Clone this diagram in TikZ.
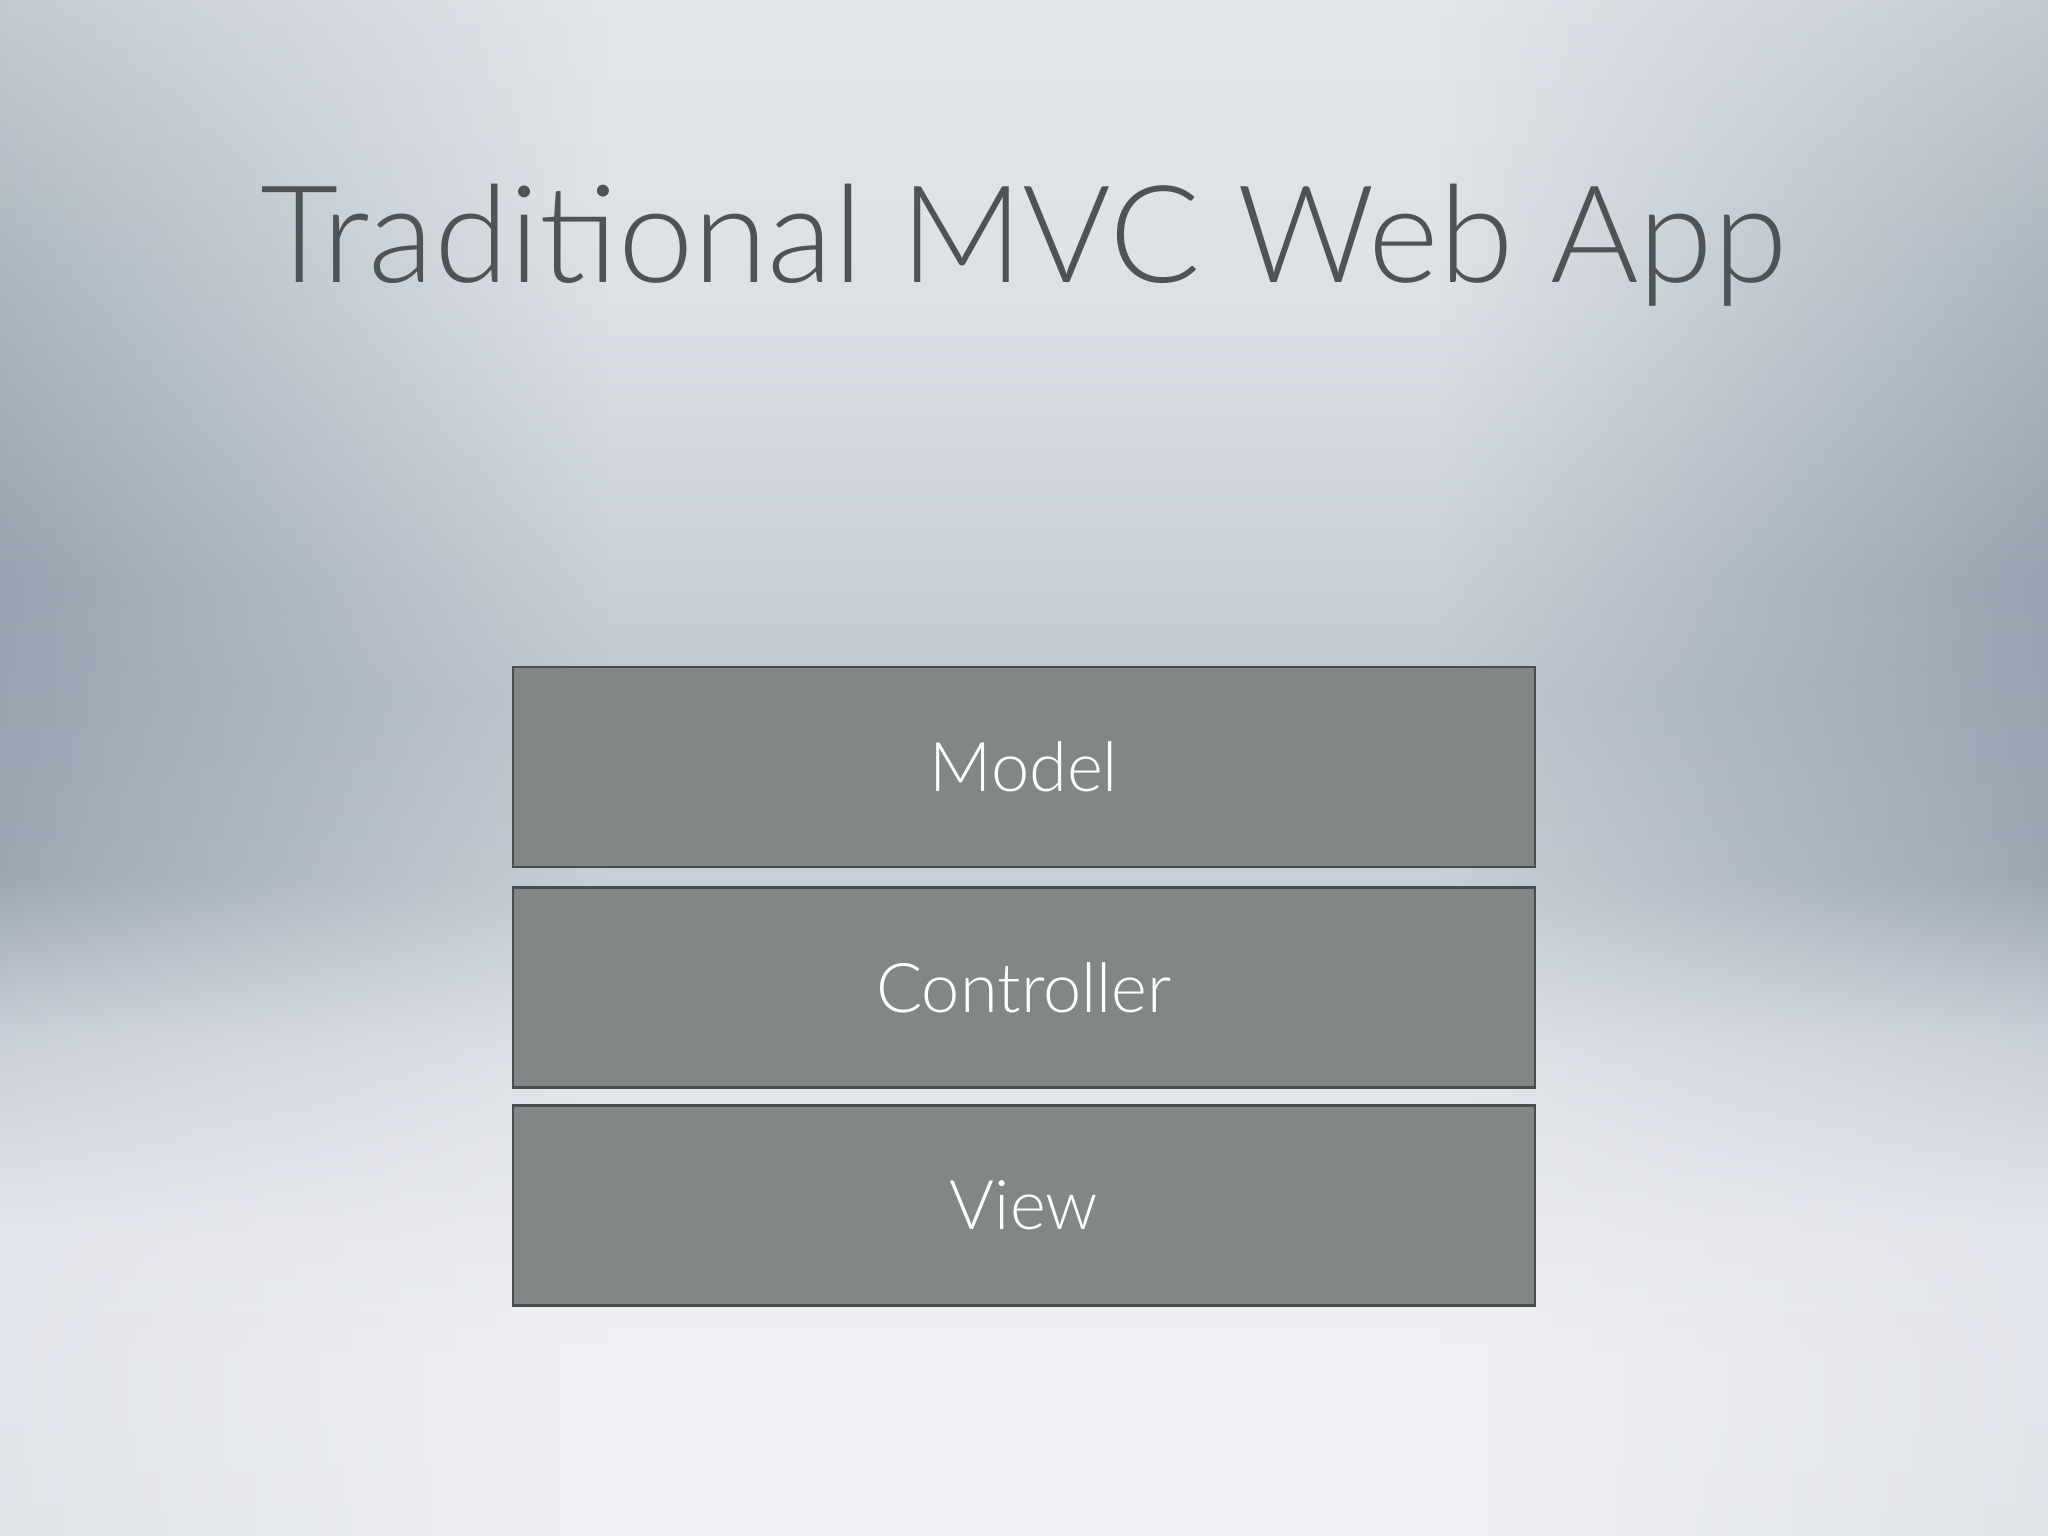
\documentclass[tikz,border=0pt]{standalone}
\usepackage{fontspec}
\setmainfont{Lato}[UprightFont=* Light]
\usepackage{tikz}
\usetikzlibrary{fadings}
\definecolor{titlegray}{RGB}{78,83,86}
\definecolor{boxgray}{RGB}{128,135,134}
\definecolor{boxline}{RGB}{72,77,80}
% backdrop, middle of the slide
\definecolor{midA}{RGB}{226,230,235}
\definecolor{midB}{RGB}{221,225,230}
\definecolor{midC}{RGB}{192,200,208}
\definecolor{midD}{RGB}{201,208,215}
\definecolor{midE}{RGB}{224,227,232}
\definecolor{midF}{RGB}{240,241,244}
% backdrop, sides of the slide
\definecolor{sideA}{RGB}{196,203,210}
\definecolor{sideB}{RGB}{170,182,191}
\definecolor{sideC}{RGB}{149,163,176}
\definecolor{sideD}{RGB}{154,167,179}
\definecolor{sideE}{RGB}{200,206,215}
\definecolor{sideF}{RGB}{227,229,236}
\definecolor{sideG}{RGB}{223,227,232}
\pgfdeclareverticalshading{midprofile}{100bp}{color(0bp)=(midF); color(25bp)=(midF); color(31bp)=(midF); color(40.8bp)=(midE); color(45.7bp)=(midD); color(52.2bp)=(midC); color(65.2bp)=(midB); color(75bp)=(midA); color(100bp)=(midA)}
\pgfdeclareverticalshading{sideprofile}{100bp}{color(0bp)=(sideG); color(25bp)=(sideG); color(35bp)=(sideF); color(41.5bp)=(sideE); color(46.5bp)=(sideD); color(56bp)=(sideC); color(66bp)=(sideB); color(75bp)=(sideA); color(100bp)=(sideA)}
\pgfdeclarehorizontalshading{sidemask}{100bp}{color(0bp)=(pgftransparent!0); color(25bp)=(pgftransparent!0); color(31bp)=(pgftransparent!40); color(40bp)=(pgftransparent!100); color(60bp)=(pgftransparent!100); color(69bp)=(pgftransparent!40); color(75bp)=(pgftransparent!0); color(100bp)=(pgftransparent!0)}
\pgfdeclarefading{sidefade}{\pgfuseshading{sidemask}}
\tikzset{
  layer/.style={draw=boxline,line width=0.8pt,fill=boxgray,minimum width=10.22cm,minimum height=2cm,inner sep=0pt,text=white,font=\fontsize{19.5}{23}\selectfont},
  heading/.style={text=titlegray,anchor=base,inner sep=0pt,font=\fontsize{38.5}{46}\selectfont}
}
\begin{document}
\begin{tikzpicture}
	% backdrop
	\useasboundingbox (0,0) rectangle (20.48,15.36);
	\shade[shading=midprofile] (-0.1,-0.1) rectangle (20.58,15.46);
	\shade[shading=sideprofile,path fading=sidefade] (-0.1,-0.1) rectangle (20.58,15.46);
	\node[heading] (title) at (10.24,12.53) {Traditional MVC Web App};
	\node[layer] (model) at (10.24,7.69) {Model};
	\node[layer] (controller) at (10.24,5.485) {Controller};
	\node[layer] (view) at (10.24,3.305) {View};
\end{tikzpicture}
\end{document}
